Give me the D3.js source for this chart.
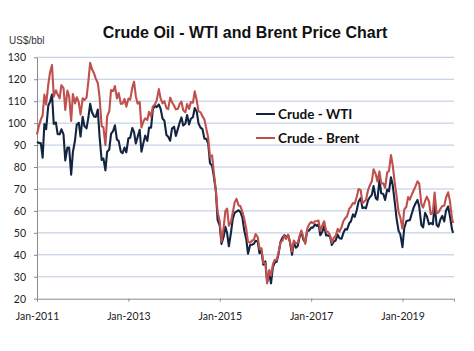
<html lang="en">
<head>
    <meta charset="UTF-8">
    <title>Crude Oil - WTI and Brent Price Chart</title>
    <script src="https://d3js.org/d3.v7.min.js"></script>
    <style>
        body { margin: 0; background: #fff; }
    </style>
</head>
<body>
    <div id="my_dataviz"></div>
    <script>
        // semi-monthly readings (US$/bbl)
        const dates = [
            "2011-01-01","2011-01-15","2011-02-01","2011-02-15","2011-03-01","2011-03-15","2011-04-01","2011-04-15","2011-05-01","2011-05-15","2011-06-01","2011-06-15",
            "2011-07-01","2011-07-15","2011-08-01","2011-08-15","2011-09-01","2011-09-15","2011-10-01","2011-10-15","2011-11-01","2011-11-15","2011-12-01","2011-12-15",
            "2012-01-01","2012-01-15","2012-02-01","2012-02-15","2012-03-01","2012-03-15","2012-04-01","2012-04-15","2012-05-01","2012-05-15","2012-06-01","2012-06-15",
            "2012-07-01","2012-07-15","2012-08-01","2012-08-15","2012-09-01","2012-09-15","2012-10-01","2012-10-15","2012-11-01","2012-11-15","2012-12-01","2012-12-15",
            "2013-01-01","2013-01-15","2013-02-01","2013-02-15","2013-03-01","2013-03-15","2013-04-01","2013-04-15","2013-05-01","2013-05-15","2013-06-01","2013-06-15",
            "2013-07-01","2013-07-15","2013-08-01","2013-08-15","2013-09-01","2013-09-15","2013-10-01","2013-10-15","2013-11-01","2013-11-15","2013-12-01","2013-12-15",
            "2014-01-01","2014-01-15","2014-02-01","2014-02-15","2014-03-01","2014-03-15","2014-04-01","2014-04-15","2014-05-01","2014-05-15","2014-06-01","2014-06-15",
            "2014-07-01","2014-07-15","2014-08-01","2014-08-15","2014-09-01","2014-09-15","2014-10-01","2014-10-15","2014-11-01","2014-11-15","2014-12-01","2014-12-15",
            "2015-01-01","2015-01-15","2015-02-01","2015-02-15","2015-03-01","2015-03-15","2015-04-01","2015-04-15","2015-05-01","2015-05-15","2015-06-01","2015-06-15",
            "2015-07-01","2015-07-15","2015-08-01","2015-08-15","2015-09-01","2015-09-15","2015-10-01","2015-10-15","2015-11-01","2015-11-15","2015-12-01","2015-12-15",
            "2016-01-01","2016-01-15","2016-02-01","2016-02-15","2016-03-01","2016-03-15","2016-04-01","2016-04-15","2016-05-01","2016-05-15","2016-06-01","2016-06-15",
            "2016-07-01","2016-07-15","2016-08-01","2016-08-15","2016-09-01","2016-09-15","2016-10-01","2016-10-15","2016-11-01","2016-11-15","2016-12-01","2016-12-15",
            "2017-01-01","2017-01-15","2017-02-01","2017-02-15","2017-03-01","2017-03-15","2017-04-01","2017-04-15","2017-05-01","2017-05-15","2017-06-01","2017-06-15",
            "2017-07-01","2017-07-15","2017-08-01","2017-08-15","2017-09-01","2017-09-15","2017-10-01","2017-10-15","2017-11-01","2017-11-15","2017-12-01","2017-12-15",
            "2018-01-01","2018-01-15","2018-02-01","2018-02-15","2018-03-01","2018-03-15","2018-04-01","2018-04-15","2018-05-01","2018-05-15","2018-06-01","2018-06-15",
            "2018-07-01","2018-07-15","2018-08-01","2018-08-15","2018-09-01","2018-09-15","2018-10-01","2018-10-15","2018-11-01","2018-11-15","2018-12-01","2018-12-15",
            "2019-01-01","2019-01-15","2019-02-01","2019-02-15","2019-03-01","2019-03-15","2019-04-01","2019-04-15","2019-05-01","2019-05-15","2019-06-01","2019-06-15",
            "2019-07-01","2019-07-15","2019-08-01","2019-08-15","2019-09-01","2019-09-15","2019-10-01","2019-10-15","2019-11-01","2019-11-15","2019-12-01","2019-12-15",
            "2020-01-01","2020-01-15","2020-02-01","2020-02-10"
        ];

        const wti = [
            91.5, 91.0, 90.8, 84.3, 99.6, 97.2, 107.9, 109.7, 113.0, 99.6, 100.3, 95.0,
            94.9, 97.2, 94.9, 83.0, 88.9, 88.9, 76.5, 86.8, 92.2, 99.4, 100.2, 93.9,
            102.9, 98.7, 97.6, 102.3, 108.8, 105.1, 103.0, 102.8, 106.2, 94.0, 83.2, 83.9,
            78.5, 87.0, 88.0, 95.1, 96.5, 99.0, 92.5, 91.9, 87.0, 86.3, 88.9, 86.7,
            93.1, 93.3, 97.8, 95.9, 90.7, 93.5, 97.0, 87.0, 91.0, 94.3, 91.9, 98.0,
            97.9, 106.3, 107.9, 107.3, 108.5, 106.6, 102.0, 101.2, 94.6, 93.8, 92.0, 97.5,
            98.4, 94.2, 97.5, 100.3, 102.6, 98.9, 99.7, 103.7, 99.4, 102.0, 102.7, 106.9,
            105.3, 99.9, 97.9, 97.4, 92.9, 92.9, 90.7, 81.8, 80.5, 75.6, 69.0, 55.9,
            53.3, 45.0, 48.2, 52.8, 49.8, 43.9, 50.1, 56.4, 59.2, 59.7, 60.3, 59.5,
            56.9, 51.4, 47.1, 40.5, 44.5, 44.6, 45.0, 46.4, 46.1, 40.7, 41.9, 35.5,
            37.0, 27.5, 31.6, 27.0, 34.4, 36.3, 36.9, 40.4, 45.9, 47.7, 49.0, 48.0,
            48.9, 45.9, 40.0, 45.7, 43.2, 43.9, 48.2, 50.3, 46.7, 45.8, 51.1, 51.0,
            52.4, 52.4, 53.9, 53.1, 54.0, 48.9, 50.6, 53.1, 48.8, 48.9, 48.3, 44.5,
            46.0, 46.5, 49.2, 47.6, 47.3, 49.9, 51.7, 51.5, 54.3, 55.3, 58.4, 57.3,
            60.4, 64.3, 65.8, 61.3, 61.6, 61.2, 64.9, 66.2, 67.3, 71.3, 65.8, 65.1,
            74.2, 68.0, 67.7, 65.0, 69.8, 68.9, 75.3, 71.8, 63.7, 56.5, 50.9, 49.3,
            43.5, 52.1, 55.3, 55.6, 55.8, 58.5, 61.6, 63.4, 65.0, 62.0, 53.5, 52.5,
            59.1, 57.6, 53.9, 54.5, 53.9, 62.9, 53.6, 52.8, 56.2, 57.7, 55.2, 60.1,
            62.0, 57.8, 51.6, 50.0
        ];

        const brent = [
            94.8, 98.5, 101.7, 103.5, 113.0, 108.5, 117.5, 123.0, 126.5, 112.0, 115.0, 113.0,
            111.3, 117.3, 116.0, 106.0, 114.8, 112.2, 101.0, 113.3, 109.0, 111.8, 109.5, 103.9,
            111.3, 110.5, 111.6, 118.7, 127.5, 124.7, 122.7, 120.3, 118.3, 112.0, 98.5, 98.1,
            90.0, 103.1, 105.5, 115.1, 114.6, 116.9, 111.3, 113.7, 108.8, 108.9, 111.0, 107.5,
            111.2, 110.7, 116.2, 118.9, 112.3, 108.9, 109.7, 98.0, 100.8, 102.2, 101.4, 105.2,
            103.0, 107.6, 108.5, 110.4, 115.5, 111.3, 109.0, 110.0, 106.9, 106.4, 111.6, 109.6,
            107.9, 106.3, 106.6, 108.8, 109.8, 105.9, 104.9, 108.7, 106.5, 109.6, 109.3, 114.5,
            110.4, 105.5, 104.9, 103.2, 101.6, 97.6, 93.3, 84.7, 85.3, 77.4, 69.5, 59.6,
            55.3, 46.0, 52.3, 59.9, 61.1, 53.3, 55.1, 59.3, 64.0, 65.5, 62.5, 62.2,
            59.6, 56.7, 51.8, 46.0, 45.5, 46.4, 46.9, 49.5, 48.0, 42.7, 43.0, 36.3,
            36.3, 27.0, 33.1, 30.5, 35.6, 37.7, 37.6, 41.1, 45.8, 46.3, 48.7, 47.2,
            49.2, 46.0, 41.5, 46.5, 45.2, 45.4, 48.7, 51.1, 47.7, 45.0, 52.0, 53.8,
            55.0, 54.4, 55.3, 55.4, 55.6, 51.0, 53.5, 55.3, 50.7, 50.5, 48.9, 45.5,
            47.8, 48.4, 51.8, 50.6, 52.6, 55.3, 56.7, 57.6, 60.9, 61.9, 63.6, 63.3,
            66.6, 70.0, 69.5, 63.5, 64.3, 65.0, 69.5, 71.6, 73.5, 79.0, 76.8, 73.4,
            78.0, 72.5, 72.6, 70.5, 77.6, 78.1, 85.5, 80.8, 72.6, 66.8, 59.5, 57.0,
            52.0, 60.6, 61.9, 66.3, 65.1, 67.2, 69.4, 71.2, 73.5, 72.5, 63.1, 61.5,
            64.6, 66.5, 64.3, 58.5, 59.2, 68.4, 58.9, 59.3, 61.0, 62.2, 62.4, 66.0,
            68.5, 64.7, 56.6, 54.5
        ];

        const yTicks = [20, 30, 40, 50, 60, 70, 80, 90, 100, 110, 120, 130];
        const xTicks = ["2011-01-01", "2013-01-01", "2015-01-01", "2017-01-01", "2019-01-01"];
        const seriesNames = ["Crude - WTI", "Crude - Brent"];
        const colors = ["#132440", "#c0504d"];

        const width = 474, height = 351;
        const margin = { top: 57, right: 20, bottom: 53, left: 37 };

        const parse = d3.timeParse("%Y-%m-%d");

        const svg = d3.select("#my_dataviz")
            .append("svg")
            .attr("width", width)
            .attr("height", height);

        const x = d3.scaleTime()
            .domain([parse("2011-01-01"), parse("2020-02-17")])
            .range([margin.left, width - margin.right]);

        const y = d3.scaleLinear()
            .domain([20, 130])
            .range([height - margin.bottom + 0.7, margin.top + 0.3]);

        // gridlines
        svg.append("g")
            .selectAll("line")
            .data(yTicks.slice(1))
            .enter()
            .append("line")
            .attr("x1", x.range()[0])
            .attr("x2", x.range()[1])
            .attr("y1", d => y(d))
            .attr("y2", d => y(d))
            .attr("stroke", "#b8c8df")
            .attr("stroke-width", 1);

        // y axis
        const yAxis = svg.append("g")
            .attr("transform", "translate(" + margin.left + ",0)")
            .call(d3.axisLeft(y).tickValues(yTicks).tickSize(3).tickSizeOuter(0).tickPadding(8));

        // x axis
        const xAxis = svg.append("g")
            .attr("transform", "translate(0," + y(20) + ")")
            .call(d3.axisBottom(x)
                .tickValues(xTicks.map(parse))
                .tickFormat(d3.timeFormat("%b-%Y"))
                .tickSize(3).tickSizeOuter(3).tickPadding(11));

        [yAxis, xAxis].forEach(g => {
            g.selectAll("path, line").attr("stroke", "#8a8a8a");
            g.selectAll("text")
                .attr("fill", "#222")
                .style("font-family", "Lato, sans-serif")
                .style("font-size", "10.5px");
        });

        // lines
        const line = vals => d3.line()
            .x((d, i) => x(parse(dates[i])))
            .y(d => y(d))(vals);

        [wti, brent].forEach((vals, i) => {
            svg.append("path")
                .attr("d", line(vals))
                .attr("fill", "none")
                .attr("stroke", colors[i])
                .attr("stroke-width", 2.1)
                .attr("stroke-linejoin", "round");
        });

        // legend
        const legend = svg.append("g");
        seriesNames.forEach((name, i) => {
            const ly = 114 + i * 24;
            legend.append("line")
                .attr("x1", 256).attr("x2", 275)
                .attr("y1", ly).attr("y2", ly)
                .attr("stroke", colors[i])
                .attr("stroke-width", 2);
            legend.append("text")
                .attr("x", 278)
                .attr("y", ly + 4.5)
                .style("font-family", "Lato, sans-serif")
                .style("font-weight", "bold")
                .style("font-size", "13.5px")
                .attr("fill", "#111")
                .text(name);
        });

        // title and unit
        svg.append("text")
            .attr("x", 245)
            .attr("y", 38)
            .attr("text-anchor", "middle")
            .style("font-family", "'Liberation Sans', Arial, sans-serif")
            .style("font-weight", "bold")
            .style("font-size", "16px")
            .attr("fill", "#111")
            .text("Crude Oil - WTI and Brent Price Chart");

        svg.append("text")
            .attr("x", 9)
            .attr("y", 44)
            .style("font-family", "'Liberation Sans', Arial, sans-serif")
            .style("font-size", "10px")
            .attr("fill", "#333")
            .text("US$/bbl");
    </script>
</body>
</html>
